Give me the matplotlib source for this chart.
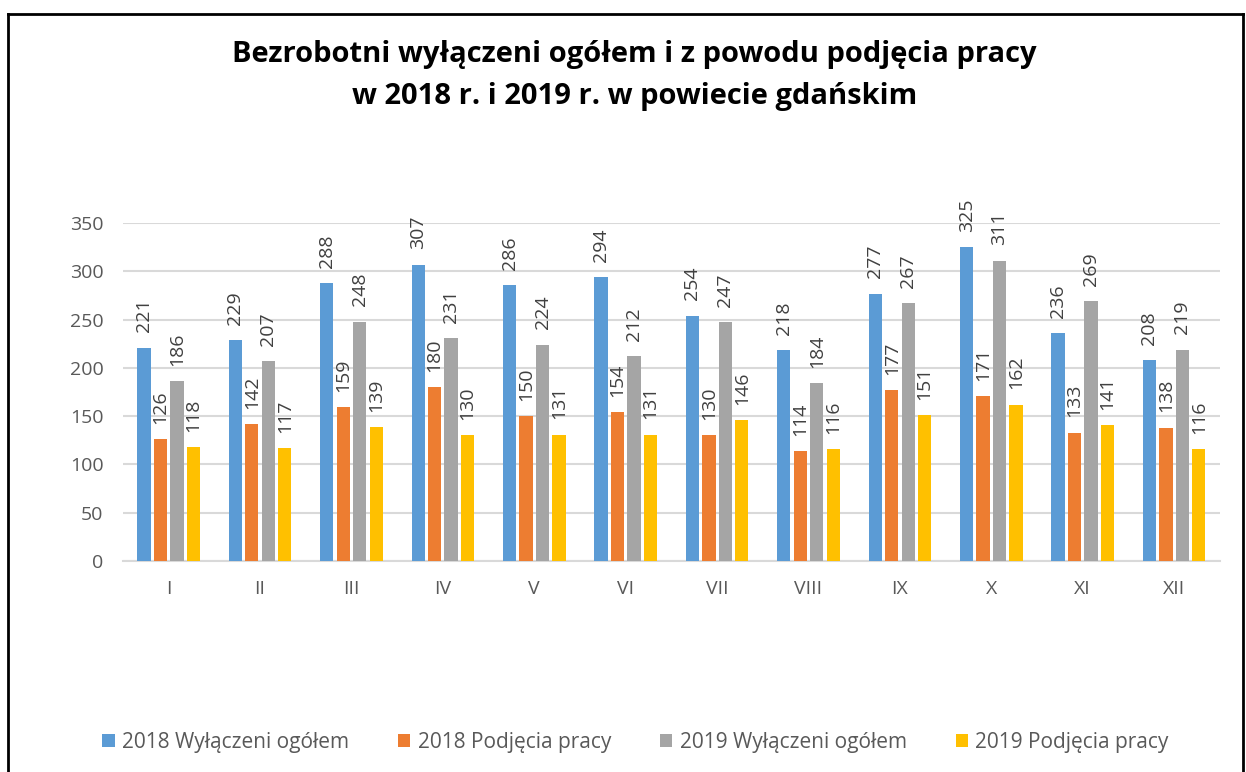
import numpy as np
import matplotlib.pyplot as plt
from matplotlib.lines import Line2D

months = ["I", "II", "III", "IV", "V", "VI", "VII", "VIII", "IX", "X", "XI", "XII"]
wyl_2018 = [221, 229, 288, 307, 286, 294, 254, 218, 277, 325, 236, 208]
podj_2018 = [126, 142, 159, 180, 150, 154, 130, 114, 177, 171, 133, 138]
wyl_2019 = [186, 207, 248, 231, 224, 212, 247, 184, 267, 311, 269, 219]
podj_2019 = [118, 117, 139, 130, 131, 131, 146, 116, 151, 162, 141, 116]

series = [
    ("2018 Wyłączeni ogółem", wyl_2018, "#5b9bd5"),
    ("2018 Podjęcia pracy", podj_2018, "#ed7d31"),
    ("2019 Wyłączeni ogółem", wyl_2019, "#a5a5a5"),
    ("2019 Podjęcia pracy", podj_2019, "#ffc000"),
]

plt.rcParams['font.family'] = ['Open Sans', 'DejaVu Sans']
txt_col = "#595959"

fig = plt.figure(figsize=(12.46, 7.72), dpi=100)
ax = fig.add_axes([0.0987, 0.2733, 0.8803, 0.4378])

x = np.arange(len(months))
step = 0.18
width = 0.145
handles = []
for i, (name, vals, col) in enumerate(series):
    pos = x + (i - 1.5) * step
    bars = ax.bar(pos, vals, width, color=col, label=name, zorder=3)
    handles.append(bars)
    for p, v in zip(pos, vals):
        ax.annotate(str(v), (p, v), xytext=(0, 11), textcoords="offset points",
                    rotation=90, ha="center", va="bottom", fontsize=14,
                    color="#404040")

ax.set_xlim(-0.5, len(months) - 0.5)
ax.set_ylim(0, 350)
ax.set_yticks(np.arange(0, 351, 50))
ax.set_xticks(x)
ax.set_xticklabels(months)
ax.tick_params(axis="both", length=0, labelsize=14, labelcolor=txt_col)
ax.tick_params(axis="x", pad=14)
ax.tick_params(axis="y", pad=14)
ax.grid(axis="y", color="#d9d9d9", linewidth=1.5, zorder=0)
for s in ["top", "right", "left"]:
    ax.spines[s].set_visible(False)
ax.spines["bottom"].set_color("#d9d9d9")
ax.spines["bottom"].set_linewidth(1.5)

fig.text(0.509, 0.902, "Bezrobotni wyłączeni ogółem i z powodu podjęcia pracy\nw 2018 r. i 2019 r. w powiecie gdańskim",
         ha="center", va="center", fontsize=21, fontweight="bold",
         color="black", linespacing=1.6)

fig.legend(handles=handles, loc="center", bbox_to_anchor=(0.510, 0.038),
           ncol=4, frameon=False, fontsize=15, labelcolor=txt_col,
           handlelength=0.6, handleheight=0.6, handletextpad=0.35,
           columnspacing=2.35)

# chart border (bottom edge cut off in the reference)
for xs, ys in [([0.0068, 0.0068], [0.0, 0.9825]),
               ([0.0068, 0.9976], [0.9825, 0.9825]),
               ([0.9976, 0.9976], [0.0, 0.9825])]:
    fig.add_artist(Line2D(xs, ys, color="black", linewidth=2,
                          transform=fig.transFigure))

fig.savefig("out.png", dpi=100)
